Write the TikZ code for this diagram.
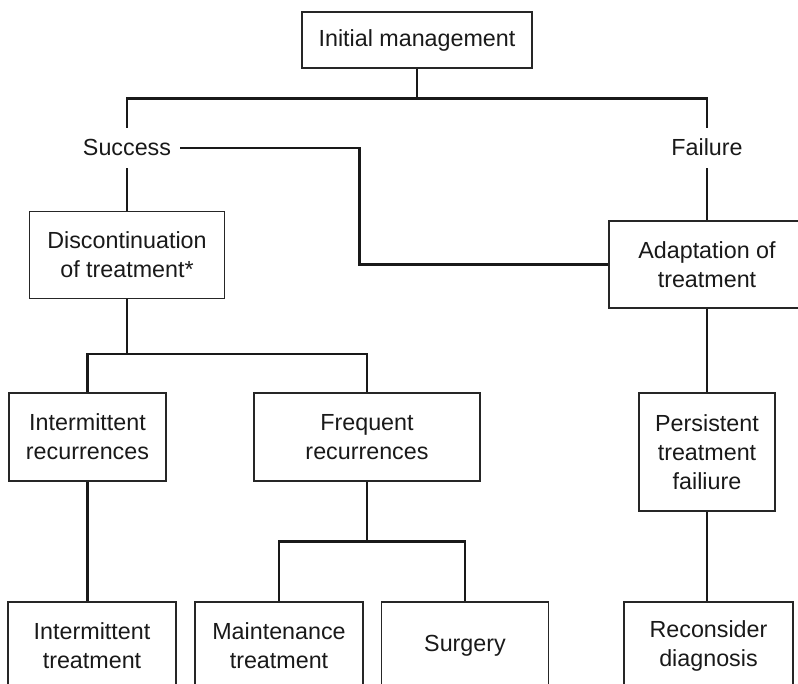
\documentclass[tikz,border=0pt]{standalone}
\usepackage{fontspec}
\setmainfont{Liberation Sans}
\usetikzlibrary{positioning}

\begin{document}
\begin{tikzpicture}[x=1pt,y=-1pt,line width=2.5pt]
\tikzstyle{every node}=[font=\fontsize{23.3}{29}\selectfont,text=black!90,align=center]
\tikzstyle{box}=[draw=black!85,line width=1.4pt,inner sep=0pt,minimum height=87pt]
\tikzstyle{outcome}=[inner xsep=8pt,inner ysep=11pt,text height=16pt,text depth=0pt]
\tikzstyle{link}=[draw=black!90,line width=2.5pt]
\useasboundingbox (0,0) rectangle (798,684);
% top of the tree
\node[box,minimum width=230pt,minimum height=56pt] (init) at (417,40) {Initial management};
\node[outcome] (succ) at (127,148) {Success};
\node[outcome] (fail) at (707,148) {Failure};
\node[box,minimum width=195pt] (disc) at (127,255) {Discontinuation\\of treatment*};
\node[box,minimum width=196pt] (adapt) at (707,264.5) {Adaptation of\\treatment};
% middle row
\node[box,minimum width=157pt,minimum height=88pt] (intrec) at (87.5,437) {Intermittent\\recurrences};
\node[box,minimum width=226pt,minimum height=88pt] (freqrec) at (367,437) {Frequent\\recurrences};
\node[box,minimum width=136pt,minimum height=118pt] (persist) at (707,452) {Persistent\\treatment\\failiure};
% bottom row
\node[box,minimum width=168pt,minimum height=88pt] (inttreat) at (92,646) {Intermittent\\treatment};
\node[box,minimum width=168pt,minimum height=88pt] (maint) at (279,646) {Maintenance\\treatment};
\node[box,minimum width=167pt,minimum height=88pt] (surg) at (465,646) {Surgery};
\node[box,minimum width=169pt,minimum height=88pt] (recon) at (708.5,646) {Reconsider\\diagnosis};

\draw[link] (init.south) -- ++(0,30) coordinate (split);
\draw[link] (succ.north) |- (split) -| (fail.north);
\draw[link] (succ.south) -- (disc.north);
\draw[link] (fail.south) -- (adapt.north);
\draw[link] (succ.east) -- ++(179,0) |- (adapt.west);
\draw[link] (disc.south) -- ++(0,55) coordinate (split2);
\draw[link] (intrec.north) |- (split2) -| (freqrec.north);
\draw[link] (freqrec.south) -- ++(0,60) coordinate (split3);
\draw[link] (maint.north) |- (split3) -| (surg.north);
\draw[link] (intrec.south) -- (intrec.south |- inttreat.north);
\draw[link] (adapt.south) -- (persist.north);
\draw[link] (persist.south) -- (persist.south |- recon.north);
\end{tikzpicture}
\end{document}
